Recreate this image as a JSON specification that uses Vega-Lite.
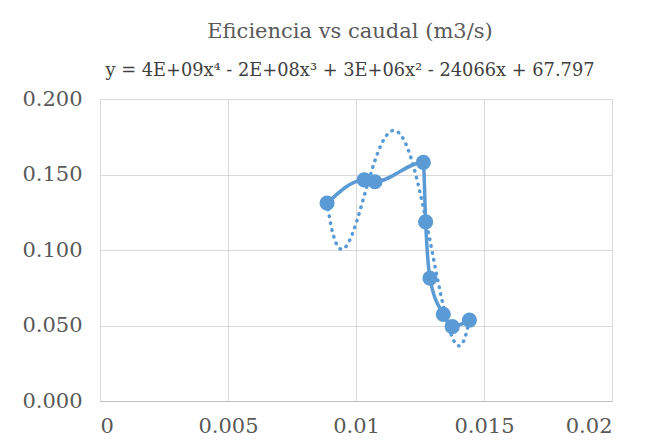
{
  "$schema": "https://vega.github.io/schema/vega-lite/v6.json",
  "autosize": {"type": "none"},
  "width": 512,
  "height": 302,
  "padding": {"left": 100, "top": 99, "right": 43, "bottom": 44},
  "background": "white",
  "title": {
    "text": "Eficiencia vs caudal (m3/s)",
    "subtitle": "y = 4E+09x⁴ - 2E+08x³ + 3E+06x² - 24066x + 67.797",
    "anchor": "middle",
    "frame": "group",
    "dx": -6,
    "offset": 8,
    "font": "DejaVu Serif",
    "fontSize": 21,
    "fontWeight": "normal",
    "color": "#595959",
    "subtitleFont": "DejaVu Serif",
    "subtitleFontSize": 17.8,
    "subtitleColor": "#404040",
    "subtitlePadding": 20
  },
  "data": {
    "values": [
      {"q": 0.00887, "eff": 0.131},
      {"q": 0.01032, "eff": 0.1464},
      {"q": 0.01074, "eff": 0.1452},
      {"q": 0.01263, "eff": 0.158},
      {"q": 0.01272, "eff": 0.1187},
      {"q": 0.01289, "eff": 0.0813},
      {"q": 0.01341, "eff": 0.0574},
      {"q": 0.01376, "eff": 0.0492},
      {"q": 0.01443, "eff": 0.0536}
    ]
  },
  "encoding": {
    "x": {
      "field": "q",
      "type": "quantitative",
      "scale": {"domain": [0, 0.02], "nice": false, "zero": false},
      "axis": {
        "values": [0, 0.005, 0.01, 0.015, 0.02],
        "format": "~g",
        "title": null,
        "ticks": false,
        "domain": true,
        "domainColor": "#bfbfbf",
        "domainWidth": 1,
        "labelPadding": 14,
        "grid": true
      }
    },
    "y": {
      "field": "eff",
      "type": "quantitative",
      "scale": {"domain": [0, 0.2], "nice": false, "zero": false},
      "axis": {
        "values": [0, 0.05, 0.1, 0.15, 0.2],
        "format": ".3f",
        "title": null,
        "ticks": false,
        "domain": false,
        "labelPadding": 18,
        "grid": true
      }
    }
  },
  "layer": [
    {
      "mark": {"type": "line", "interpolate": "monotone", "color": "#5B9BD5", "strokeWidth": 3.5}
    },
    {
      "mark": {"type": "point", "shape": "circle", "filled": true, "size": 230, "color": "#5B9BD5", "opacity": 1}
    },
    {
      "transform": [{"regression": "eff", "on": "q", "method": "poly", "order": 4}],
      "mark": {"type": "line", "color": "#5B9BD5", "strokeWidth": 3.5, "strokeDash": [0.5, 6.5], "strokeCap": "round"}
    }
  ],
  "config": {
    "view": {"stroke": null},
    "axis": {
      "labelFont": "DejaVu Serif",
      "labelFontSize": 21,
      "labelColor": "#595959",
      "gridColor": "#d9d9d9",
      "gridWidth": 1
    }
  }
}
